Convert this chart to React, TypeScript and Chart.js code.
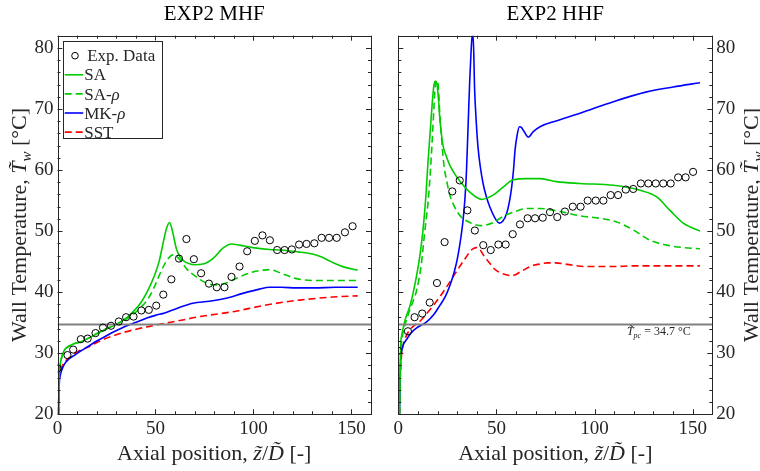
import React, { useEffect, useRef } from "react";
import { Chart, registerables } from "chart.js";
Chart.register(...registerables);

// ---------------- data ----------------
// EXP2 MHF (left panel)
const mhfExpZ = [0, 5.1, 8, 11.9, 15.4, 19.4, 23.2, 27.3, 31.3, 35, 38.8, 42.8, 46.6, 50.4, 54, 58.1, 62, 65.8, 69.6, 73.3, 77.3, 81.3, 85.2, 88.8, 92.9, 96.8, 100.7, 104.6, 108.4, 112.1, 115.9, 119.6, 123.3, 127.1, 131.1, 134.8, 138.6, 142.5, 146.7, 150.6];
const mhfExpT = [27.5, 29.7, 30.6, 32.3, 32.4, 33.3, 34.2, 34.5, 35.2, 35.9, 36.0, 37.0, 37.1, 37.8, 39.6, 42.1, 45.5, 48.7, 45.4, 43.1, 41.4, 40.8, 40.8, 42.5, 44.2, 46.7, 48.4, 49.3, 48.5, 46.9, 46.9, 47.0, 47.8, 47.9, 48.0, 48.9, 48.9, 48.9, 49.8, 50.8];

const mhfSaZ = [0.5, 0.7, 0.9, 1.3, 2.2, 3.5, 5.5, 8, 12, 16, 20.7, 25, 29.2, 33, 36, 39.5, 42.8, 46, 49.6, 52, 54, 55.7, 57.2, 58.8, 60.6, 62.5, 64.5, 67, 70, 74.2, 79.3, 84.4, 88.7, 92.9, 99.7, 108.2, 114.1, 122.6, 129.4, 134.5, 139.6, 146.4, 153.2];
const mhfSaT = [20, 24, 26.5, 28, 29.4, 30.5, 31.1, 31.5, 31.9, 32.5, 33.3, 34.0, 34.6, 35.3, 36.0, 37.1, 38.4, 40.2, 42.8, 45.2, 48.2, 50.5, 51.4, 49.8, 47.2, 45.8, 45.1, 44.7, 44.5, 44.6, 45.5, 47.2, 47.9, 47.7, 47.3, 47.0, 46.9, 46.6, 46.3, 45.8, 45.0, 44.1, 43.6];

const mhfSarZ = [0.5, 0.7, 0.9, 1.3, 2.2, 3.5, 5.5, 8, 12, 16, 20.7, 25, 29.2, 33, 36, 39.5, 42.8, 46, 49.6, 52, 54, 56.5, 58.9, 61, 63.5, 65.7, 70.8, 75.9, 81, 86.1, 92.9, 99.7, 104.8, 108, 114.1, 120.9, 126, 135, 145, 153.2];
const mhfSarT = [20, 24, 26.5, 28, 29.4, 30.5, 31.1, 31.5, 31.9, 32.5, 33.3, 34.0, 34.6, 35.2, 35.8, 36.6, 37.6, 38.8, 41.0, 42.8, 44.2, 45.5, 46.1, 45.8, 44.9, 43.9, 42.5, 41.5, 41.2, 41.5, 42.5, 43.3, 43.6, 43.7, 43.1, 42.3, 42.0, 41.9, 41.9, 41.9];

const mhfMkZ = [0.5, 0.7, 1.0, 1.5, 2.6, 3.7, 6, 8.8, 12, 15.6, 20, 24.1, 28, 32.6, 37, 41.1, 46, 50, 54.7, 60.6, 69.1, 77.6, 86.1, 94.6, 103.1, 108.2, 114.1, 122, 131.1, 142, 153.2];
const mhfMkT = [20, 23.5, 25.5, 26.5, 27.6, 28.3, 29.1, 29.7, 30.4, 31.1, 32.0, 32.7, 33.4, 34.1, 34.7, 35.2, 35.8, 36.2, 36.6, 37.3, 38.2, 38.5, 39.0, 39.8, 40.5, 40.8, 40.8, 40.7, 40.7, 40.8, 40.8];

const mhfSstZ = [0.5, 0.8, 1.4, 2.9, 5, 7.1, 10, 15.6, 21.6, 28, 32.6, 41.1, 47, 53, 60, 72.6, 89.5, 106.5, 123.5, 140.4, 153.2];
const mhfSstT = [20, 25, 26.8, 28.2, 29.0, 29.5, 30.2, 31.0, 32.0, 32.8, 33.3, 34.0, 34.4, 34.8, 35.2, 36.0, 36.8, 37.9, 38.7, 39.2, 39.4];

// EXP2 HHF (right panel)
const hhfExpZ = [0, 4.9, 8.3, 12.2, 16, 19.7, 23.6, 27.5, 31.3, 35.2, 39, 43.3, 47.1, 51, 54.7, 58.3, 62, 65.9, 69.7, 73.6, 77.3, 81, 84.9, 88.9, 92.9, 96.5, 100.6, 104.5, 108.2, 112, 115.9, 119.7, 123.6, 127.4, 131.2, 135, 138.8, 142.6, 146.4, 150.2];
const hhfExpT = [30.4, 33.6, 35.9, 36.5, 38.3, 41.5, 48.2, 56.5, 58.3, 53.4, 50.1, 47.7, 46.9, 47.8, 47.8, 49.5, 51.1, 52.1, 52.1, 52.2, 53.1, 52.3, 53.2, 54.0, 54.0, 55.0, 55.0, 55.0, 55.9, 55.9, 56.8, 56.9, 57.8, 57.8, 57.8, 57.8, 57.8, 58.8, 58.8, 59.7];

const hhfSaZ = [0.6, 0.9, 1.2, 1.8, 2.6, 4, 5.8, 7.5, 9.2, 11, 12.6, 14, 15.1, 16.3, 17.3, 18, 18.6, 19.2, 19.8, 20.5, 21.1, 22, 22.8, 24.5, 26.2, 28.5, 31.3, 36.4, 42.3, 48.3, 53.4, 58.6, 65.4, 72.2, 80.7, 92.6, 109.6, 123.2, 131.7, 138.4, 145.2, 153.7];
const hhfSaT = [20, 26, 31.1, 33.0, 34.3, 36.0, 37.6, 39.8, 42.5, 46.0, 50.2, 55.5, 61.1, 66.5, 71.0, 73.5, 74.5, 74.5, 73.8, 71.5, 68.7, 65.8, 64.0, 62.2, 60.8, 59.5, 58.2, 56.4, 55.2, 55.9, 57.2, 58.4, 58.6, 58.6, 58.1, 57.8, 57.5, 56.7, 55.6, 53.4, 51.3, 50.0];

const hhfSarZ = [0.6, 0.9, 1.3, 2.0, 3, 4.5, 6, 7.5, 9.5, 11.7, 13.5, 15.1, 16.3, 17.3, 18.2, 19, 19.6, 20.2, 20.7, 21.1, 22, 22.8, 23.6, 24.5, 26, 27.9, 30, 32.1, 37.2, 42.3, 48.3, 53.4, 58.6, 65.4, 72.2, 82.4, 92.6, 102.8, 111.3, 119.7, 128.3, 136.8, 145.2, 153.7];
const hhfSarT = [20, 25, 30, 32.5, 34.2, 35.8, 37.2, 38.5, 40.5, 44.5, 50.0, 54.5, 59.5, 65.0, 70.5, 74.4, 74.7, 74.2, 72.0, 69.3, 65.5, 62.2, 60.0, 58.5, 56.2, 54.5, 53.2, 52.3, 51.3, 50.9, 51.4, 52.4, 53.1, 53.7, 53.7, 53.2, 52.5, 52.1, 51.5, 50.2, 48.5, 47.7, 47.3, 47.1];

const hhfMkZ = [0.6, 0.9, 1.2, 1.8, 2.7, 4.1, 6.5, 9.2, 14.3, 18, 21.1, 24, 26.2, 28.5, 30.4, 32, 33, 34, 34.7, 35.6, 36.4, 37.1, 37.6, 38.1, 38.9, 39.7, 40.6, 41.8, 43.2, 44.8, 46.6, 49.9, 51.5, 53.2, 55.2, 56.6, 57.8, 58.7, 59.5, 60.6, 61.7, 62.7, 64.1, 66.3, 68.8, 72.2, 80, 92.6, 109.6, 126.6, 140, 153.7];
const hhfMkT = [20, 25, 28.9, 30.5, 31.5, 32.2, 33.3, 34.1, 35.1, 36.3, 37.8, 39.3, 41.0, 43.3, 46.0, 49.2, 51.8, 55.5, 59.5, 67.5, 74.7, 79.5, 81.8, 82.3, 73.1, 68.0, 63.8, 60.5, 57.8, 55.7, 54.0, 51.8, 51.3, 51.6, 52.9, 54.8, 57.3, 60.0, 63.3, 65.8, 67.1, 67.0, 66.3, 65.4, 66.3, 67.1, 68.0, 69.3, 71.2, 72.8, 73.6, 74.3];

const hhfSstZ = [0.6, 1.0, 1.6, 2.6, 4, 5.8, 8, 10.9, 13.5, 16, 18.5, 21.1, 24.5, 27.9, 31.3, 34.7, 37.2, 39.7, 41.5, 43.5, 46.7, 49, 51.8, 54.5, 57.3, 60, 62, 65.4, 68.8, 72.2, 76, 80, 85, 89.2, 95, 102.8, 110, 119.7, 130, 140, 153.7];
const hhfSstT = [20, 26, 29.5, 31.5, 32.8, 33.8, 34.5, 35.2, 36.1, 37.1, 38.1, 39.2, 40.8, 42.5, 44.2, 45.8, 46.9, 47.3, 47.0, 46.0, 44.7, 43.8, 43.2, 42.9, 42.7, 42.9, 43.3, 43.9, 44.4, 44.6, 44.8, 44.8, 44.6, 44.4, 44.2, 44.2, 44.2, 44.3, 44.3, 44.3, 44.3];

const T_PC = 34.7;
const X_MIN = 0, X_MAX = 160, X_STEP = 50, X_MINOR = 10;
const Y_MIN = 20, Y_MAX = 82, Y_STEP = 10, Y_MINOR = 2;

// ---------------- styling ----------------
const FONT = '"Liberation Serif", "Times New Roman", serif';
const INK = "#262626";
const GREEN = "rgb(0,204,0)";
const BLUE = "rgb(0,0,255)";
const RED = "rgb(255,0,0)";
const GRAY = "rgb(128,128,128)";
const DASH = [7, 4];

type Seg = { t: string; it?: boolean; sub?: boolean };

function segFont(s: Seg, size: number) {
  const sz = s.sub ? Math.round(size * 0.7) : size;
  return `${s.it ? "italic " : ""}${sz}px ${FONT}`;
}
function richWidth(ctx: CanvasRenderingContext2D, segs: Seg[], size: number) {
  let w = 0;
  for (const s of segs) {
    ctx.font = segFont(s, size);
    w += ctx.measureText(s.t).width;
  }
  return w;
}
// draws rich text whose cap-height centre sits at (x, y)
function drawRich(ctx: CanvasRenderingContext2D, segs: Seg[], size: number, x: number, y: number, rot: number, align: "center" | "left" | "right") {
  ctx.save();
  ctx.translate(x, y);
  ctx.rotate(rot);
  const w = richWidth(ctx, segs, size);
  let cx = align === "center" ? -w / 2 : align === "right" ? -w : 0;
  const base = size * 0.33;
  ctx.textAlign = "left";
  ctx.textBaseline = "alphabetic";
  ctx.fillStyle = INK;
  for (const s of segs) {
    ctx.font = segFont(s, size);
    ctx.fillText(s.t, cx, base + (s.sub ? size * 0.22 : 0));
    cx += ctx.measureText(s.t).width;
  }
  ctx.restore();
}
function labelSegs(label: string): Seg[] {
  const parts = label.split("ρ");
  const out: Seg[] = [];
  parts.forEach((p, i) => {
    if (p) out.push({ t: p });
    if (i < parts.length - 1) out.push({ t: "ρ", it: true });
  });
  return out;
}

const Y_TITLE: Seg[] = [{ t: "Wall Temperature, " }, { t: "T\u0303", it: true }, { t: "w", it: true, sub: true }, { t: " [\u00B0C]" }];
const X_TITLE: Seg[] = [{ t: "Axial position, " }, { t: "z\u0303", it: true }, { t: "/" }, { t: "D\u0303", it: true }, { t: " [-]" }];
const PC_LABEL: Seg[] = [{ t: "T\u0303", it: true }, { t: "pc", it: true, sub: true }, { t: " = 34.7 \u00B0C" }];

const pts = (xs: number[], ys: number[]) => xs.map((x, i) => ({ x, y: ys[i] }));

type Panel = {
  side: "left" | "right";
  title: string;
  expZ: number[]; expT: number[];
  saZ: number[]; saT: number[];
  sarZ: number[]; sarT: number[];
  mkZ: number[]; mkT: number[];
  sstZ: number[]; sstT: number[];
};

const PANELS: Panel[] = [
  { side: "left", title: "EXP2 MHF", expZ: mhfExpZ, expT: mhfExpT, saZ: mhfSaZ, saT: mhfSaT, sarZ: mhfSarZ, sarT: mhfSarT, mkZ: mhfMkZ, mkT: mhfMkT, sstZ: mhfSstZ, sstT: mhfSstT },
  { side: "right", title: "EXP2 HHF", expZ: hhfExpZ, expT: hhfExpT, saZ: hhfSaZ, saT: hhfSaT, sarZ: hhfSarZ, sarT: hhfSarT, mkZ: hhfMkZ, mkT: hhfMkT, sstZ: hhfSstZ, sstT: hhfSstT },
];

function lineDs(label: string, xs: number[], ys: number[], color: string, dash: number[]) {
  return {
    label,
    data: pts(xs, ys),
    showLine: true,
    borderColor: color,
    backgroundColor: color,
    borderWidth: 1.6,
    borderDash: dash,
    pointRadius: 0,
    fill: false,
    cubicInterpolationMode: "monotone" as const,
  };
}

const framePlugin = {
  id: "frame",
  afterDatasetsDraw(chart: any) {
    const { ctx, chartArea: a } = chart;
    const xs = chart.scales.x, ys = chart.scales.y;
    ctx.save();
    ctx.strokeStyle = INK;
    ctx.lineWidth = 1;
    ctx.beginPath();
    for (let v = X_MIN; v <= X_MAX + 1e-9; v += X_MINOR) {
      const p = Math.round(xs.getPixelForValue(v)) + 0.5;
      const len = Math.abs(v % X_STEP) < 1e-6 ? 5 : 3;
      ctx.moveTo(p, a.bottom); ctx.lineTo(p, a.bottom - len);
      ctx.moveTo(p, a.top); ctx.lineTo(p, a.top + len);
    }
    for (let v = Y_MIN; v <= Y_MAX + 1e-9; v += Y_MINOR) {
      const p = Math.round(ys.getPixelForValue(v)) + 0.5;
      const len = Math.abs(v % Y_STEP) < 1e-6 ? 5 : 3;
      ctx.moveTo(a.left, p); ctx.lineTo(a.left + len, p);
      ctx.moveTo(a.right, p); ctx.lineTo(a.right - len, p);
    }
    ctx.stroke();
    const l = Math.round(a.left) + 0.5, t = Math.round(a.top) + 0.5;
    ctx.strokeRect(l, t, Math.round(a.right) - Math.round(a.left), Math.round(a.bottom) - Math.round(a.top));
    ctx.restore();
  },
};

function makeDecor(panel: Panel) {
  return {
    id: "decor" + panel.side,
    afterDraw(chart: any) {
      const { ctx, chartArea: a } = chart;
      const cxp = (a.left + a.right) / 2;
      const cyp = (a.top + a.bottom) / 2;
      // axis titles
      drawRich(ctx, X_TITLE, 22, cxp, 452.5, 0, "center");
      if (panel.side === "left") {
        drawRich(ctx, Y_TITLE, 22, 19, cyp, -Math.PI / 2, "center");
        // legend
        const bx = a.left + 5.2, by = a.top + 5, bw = 99, bh = 97;
        ctx.save();
        ctx.fillStyle = "#fff";
        ctx.fillRect(bx, by, bw, bh);
        ctx.strokeStyle = INK;
        ctx.lineWidth = 1;
        ctx.strokeRect(Math.round(bx) + 0.5, Math.round(by) + 0.5, bw, bh);
        let row = 0;
        chart.data.datasets.forEach((ds: any) => {
          if (!ds.label) return;
          const ry = by + 15 + row * 19.1;
          if (ds.showLine) {
            ctx.save();
            ctx.strokeStyle = ds.borderColor;
            ctx.lineWidth = ds.borderWidth;
            ctx.setLineDash(ds.borderDash || []);
            ctx.beginPath();
            ctx.moveTo(bx + 2, ry); ctx.lineTo(bx + 20.5, ry);
            ctx.stroke();
            ctx.restore();
            drawRich(ctx, labelSegs(ds.label), 17, bx + 21.5, ry, 0, "left");
          } else {
            ctx.save();
            ctx.strokeStyle = ds.pointBorderColor;
            ctx.lineWidth = 1;
            ctx.beginPath();
            ctx.arc(bx + 12.3, ry, 3.3, 0, Math.PI * 2);
            ctx.stroke();
            ctx.restore();
            drawRich(ctx, labelSegs(ds.label), 17, bx + 24.5, ry, 0, "left");
          }
          row++;
        });
        ctx.restore();
      } else {
        drawRich(ctx, Y_TITLE, 22, 370.5, cyp, -Math.PI / 2, "center");
        const xs = chart.scales.x, ys = chart.scales.y;
        drawRich(ctx, PC_LABEL, 12, xs.getPixelForValue(149), ys.getPixelForValue(T_PC) + 7, 0, "right");
      }
    },
  };
}

function makeConfig(panel: Panel): any {
  const isLeft = panel.side === "left";
  return {
    type: "scatter",
    data: {
      datasets: [
        {
          label: "Exp. Data",
          data: pts(panel.expZ, panel.expT),
          showLine: false,
          pointStyle: "circle",
          pointRadius: 3.6,
          pointBorderWidth: 1,
          pointBorderColor: "#000",
          pointBackgroundColor: "rgba(0,0,0,0)",
          borderColor: "#000",
          backgroundColor: "rgba(0,0,0,0)",
        },
        {
          label: "",
          data: [{ x: X_MIN, y: T_PC }, { x: X_MAX, y: T_PC }],
          showLine: true,
          borderColor: GRAY,
          borderWidth: 2,
          pointRadius: 0,
          fill: false,
        },
        lineDs("SA", panel.saZ, panel.saT, GREEN, []),
        lineDs("SA-ρ", panel.sarZ, panel.sarT, GREEN, DASH),
        lineDs("MK-ρ", panel.mkZ, panel.mkT, BLUE, []),
        lineDs("SST", panel.sstZ, panel.sstT, RED, DASH),
      ],
    },
    options: {
      animation: false,
      responsive: false,
      devicePixelRatio: 1,
      events: [],
      layout: { padding: isLeft ? { left: 0, right: 9, top: 0, bottom: 0 } : { left: 18.3, right: 0, top: 0, bottom: 0 } },
      plugins: {
        legend: { display: false },
        tooltip: { enabled: false },
        title: {
          display: true,
          text: panel.title,
          fullSize: false,
          color: "#000",
          font: { family: FONT, size: 21, weight: "normal", lineHeight: 1.2 },
          padding: { top: 1.5, bottom: 9 },
        },
      },
      scales: {
        x: {
          type: "linear",
          position: "bottom",
          min: X_MIN,
          max: X_MAX,
          grid: { display: false, drawTicks: false },
          border: { display: false },
          ticks: { stepSize: X_STEP, includeBounds: false, maxRotation: 0, autoSkip: false, color: INK, padding: 3, font: { family: FONT, size: 19 } },
          afterFit: (s: any) => { s.height = 56.7; },
        },
        y: {
          type: "linear",
          position: isLeft ? "left" : "right",
          min: Y_MIN,
          max: Y_MAX,
          grid: { display: false, drawTicks: false },
          border: { display: false },
          ticks: { stepSize: Y_STEP, includeBounds: false, autoSkip: false, color: INK, padding: 4, font: { family: FONT, size: 19 } },
          afterFit: (s: any) => { s.width = isLeft ? 57.5 : 47.7; },
        },
      },
    },
    plugins: [framePlugin, makeDecor(panel)],
  };
}

export default function App() {
  const leftRef = useRef<HTMLCanvasElement>(null);
  const rightRef = useRef<HTMLCanvasElement>(null);
  useEffect(() => {
    const c1 = new Chart(leftRef.current as HTMLCanvasElement, makeConfig(PANELS[0]));
    const c2 = new Chart(rightRef.current as HTMLCanvasElement, makeConfig(PANELS[1]));
    return () => {
      c1.destroy();
      c2.destroy();
    };
  }, []);
  return (
    <div style={{ position: "absolute", left: 0, top: 0, width: 760, height: 471, background: "#fff", overflow: "hidden" }}>
      <canvas ref={leftRef} width={380} height={471} style={{ position: "absolute", left: 0, top: 0, width: 380, height: 471 }} />
      <canvas ref={rightRef} width={380} height={471} style={{ position: "absolute", left: 380, top: 0, width: 380, height: 471 }} />
    </div>
  );
}
